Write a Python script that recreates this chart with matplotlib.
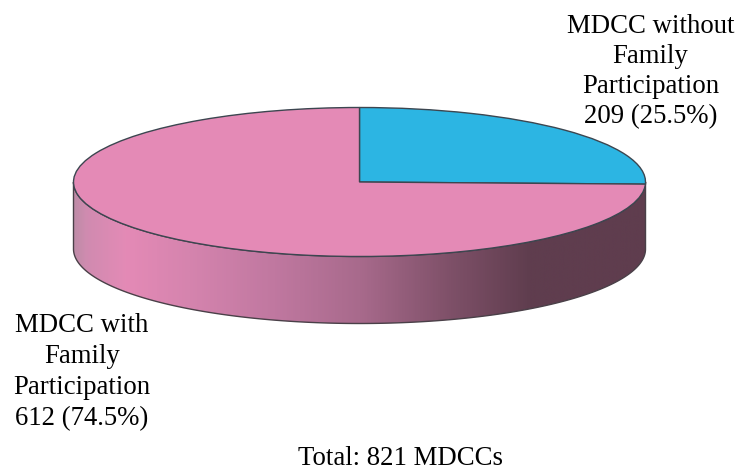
import numpy as np
import matplotlib
matplotlib.use("Agg")
import matplotlib.pyplot as plt
from matplotlib.colors import LinearSegmentedColormap
from matplotlib.patches import Polygon

labels = ["MDCC without\nFamily\nParticipation\n209 (25.5%)",
          "MDCC with\nFamily\nParticipation\n612 (74.5%)"]
values = [209, 612]
colors = ["#2cb5e3", "#e48ab6"]
total_label = "Total: 821 MDCCs"

# shading along the side wall, left to right
side_stops = [0.0, 0.02, 0.09, 0.2, 0.35, 0.5, 0.66, 0.8, 1.0]
side_colors = ["#c08ca8", "#d08bb0", "#e48ab6", "#d584ae", "#c078a0",
               "#a86a8c", "#7e5068", "#5f3d4e", "#5f3d4e"]

W, H = 739, 470
cx, cy = 359.5, 182
rx, ry = 286, 74.5
depth = 67

plt.rcParams["font.family"] = "Liberation Serif"
fig = plt.figure(figsize=(W / 100, H / 100), dpi=100, facecolor="white")
ax = fig.add_axes([0, 0, 1, 1])

# side wall of the disc: lower half of the ellipse pushed down by depth
t = np.linspace(np.pi, 2 * np.pi, 300)
upper = np.column_stack([cx + rx * np.cos(t), cy - ry * np.sin(t)])
lower = upper[::-1] + [0, depth]
wall = Polygon(np.vstack([upper, lower]), closed=True, facecolor="none",
               edgecolor="#4a4048", linewidth=1.0, zorder=2)
ax.add_patch(wall)
cmap = LinearSegmentedColormap.from_list("side", list(zip(side_stops, side_colors)))
img = ax.imshow(np.linspace(0, 1, 600).reshape(1, -1), cmap=cmap, aspect="auto",
                extent=[cx - rx, cx + rx, cy + ry + depth + 2, cy - ry], zorder=1)
img.set_clip_path(wall)

# top face, the pie is squashed by the axis scales
pie_ax = fig.add_axes([0, 0, 1, 1])
pie_ax.patch.set_alpha(0)
wedges, _ = pie_ax.pie(values, colors=colors, startangle=90, counterclock=False,
                       radius=1, frame=True,
                       wedgeprops=dict(edgecolor="#3c4650", linewidth=1.0))
pie_ax.set_aspect("auto")
pie_ax.set_xlim(-cx / rx, (W - cx) / rx)
pie_ax.set_ylim(-(H - cy) / ry, cy / ry)
pie_ax.axis("off")

ax.set_xlim(0, W)
ax.set_ylim(H, 0)
ax.axis("off")

fig.text(650.5 / W, 1 - 123 / H, labels[0], ha="center", va="baseline",
         fontsize=19.3, linespacing=1.27, color="black")
fig.text(82 / W, 1 - 425 / H, labels[1], ha="center", va="baseline",
         fontsize=19.3, linespacing=1.31, color="black")
fig.text(400 / W, 1 - 465 / H, total_label, ha="center", va="baseline",
         fontsize=19.3, color="black")

fig.savefig("out.png", dpi=100)
